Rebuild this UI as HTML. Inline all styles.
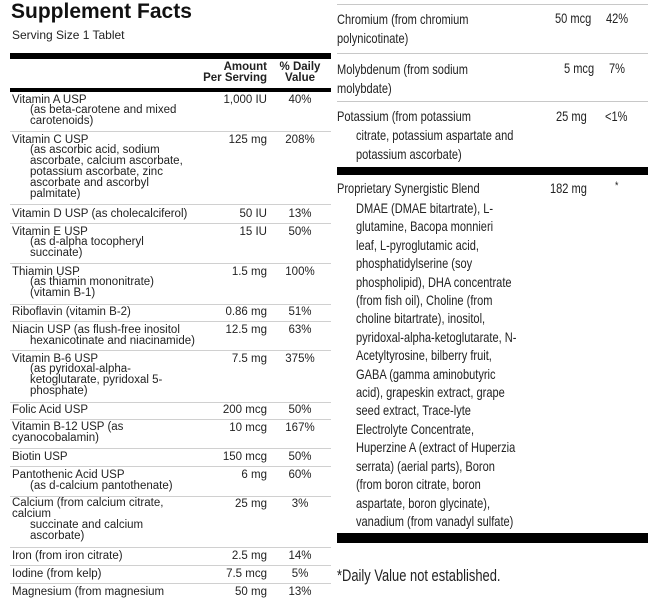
<!DOCTYPE html>
<html><head><meta charset="utf-8"><style>
body{margin:0;background:#fff;width:654px;height:600px;position:relative;overflow:hidden;font-family:"Liberation Sans",Arial,sans-serif;color:#222}
.l{position:absolute;font-size:11.5px;line-height:12px;white-space:nowrap}
.a{position:absolute;font-size:11.5px;line-height:12px;white-space:nowrap;right:387px;text-align:right}
.p{position:absolute;font-size:11.5px;line-height:12px;white-space:nowrap;left:280px;width:40px;text-align:center}
.s{position:absolute;left:10px;width:321px;height:1px;background:#d0d0d0}
.r{position:absolute;font-size:14px;line-height:16px;white-space:nowrap;transform:scaleX(0.79);transform-origin:0 0;color:#222}
.rs{position:absolute;left:337px;width:311px;height:1px;background:#c8c8c8}
.b{position:absolute;background:#000}
</style></head><body>
<div style="position:absolute;left:11px;top:0px;font-size:21px;font-weight:bold;line-height:24px;color:#111">Supplement Facts</div>
<div class="l" style="left:12px;top:29px;font-size:12px">Serving Size 1 Tablet</div>
<div class="b" style="left:10px;top:53px;width:321px;height:6px"></div>
<div class="l" style="right:387px;top:62px;text-align:right;font-weight:bold;line-height:11px">Amount<br>Per Serving</div>
<div class="l" style="left:278px;width:44px;top:62px;text-align:center;font-weight:bold;line-height:11px">% Daily<br>Value</div>
<div class="b" style="left:10px;top:88px;width:321px;height:4px"></div>

<div class="l" style="left:12px;top:94px">Vitamin A USP</div><div class="a" style="top:94px">1,000 IU</div><div class="p" style="top:94px">40%</div>
<div class="l" style="left:30px;top:105px;line-height:11px">(as beta-carotene and mixed<br>carotenoids)</div>
<div class="s" style="top:131px"></div>
<div class="l" style="left:12px;top:134px">Vitamin C USP</div><div class="a" style="top:134px">125 mg</div><div class="p" style="top:134px">208%</div>
<div class="l" style="left:30px;top:145px;line-height:11px">(as ascorbic acid, sodium<br>ascorbate, calcium ascorbate,<br>potassium ascorbate, zinc<br>ascorbate and ascorbyl<br>palmitate)</div>
<div class="s" style="top:204px"></div>
<div class="l" style="left:12px;top:208px">Vitamin D USP (as cholecalciferol)</div><div class="a" style="top:208px">50 IU</div><div class="p" style="top:208px">13%</div>
<div class="s" style="top:223px"></div>
<div class="l" style="left:12px;top:226px">Vitamin E USP</div><div class="a" style="top:226px">15 IU</div><div class="p" style="top:226px">50%</div>
<div class="l" style="left:30px;top:237px;line-height:11px">(as d-alpha tocopheryl<br>succinate)</div>
<div class="s" style="top:263px"></div>
<div class="l" style="left:12px;top:266px">Thiamin USP</div><div class="a" style="top:266px">1.5 mg</div><div class="p" style="top:266px">100%</div>
<div class="l" style="left:30px;top:277px;line-height:11px">(as thiamin mononitrate)<br>(vitamin B-1)</div>
<div class="s" style="top:304px"></div>
<div class="l" style="left:12px;top:306px">Riboflavin (vitamin B-2)</div><div class="a" style="top:306px">0.86 mg</div><div class="p" style="top:306px">51%</div>
<div class="s" style="top:321px"></div>
<div class="l" style="left:12px;top:324px">Niacin USP (as flush-free inositol</div><div class="a" style="top:324px">12.5 mg</div><div class="p" style="top:324px">63%</div>
<div class="l" style="left:30px;top:335px">hexanicotinate and niacinamide)</div>
<div class="s" style="top:350px"></div>
<div class="l" style="left:12px;top:353px">Vitamin B-6 USP</div><div class="a" style="top:353px">7.5 mg</div><div class="p" style="top:353px">375%</div>
<div class="l" style="left:30px;top:364px;line-height:11px">(as pyridoxal-alpha-<br>ketoglutarate, pyridoxal 5-<br>phosphate)</div>
<div class="s" style="top:402px"></div>
<div class="l" style="left:12px;top:404px">Folic Acid USP</div><div class="a" style="top:404px">200 mcg</div><div class="p" style="top:404px">50%</div>
<div class="s" style="top:419px"></div>
<div class="l" style="left:12px;top:422px;line-height:11px">Vitamin B-12 USP (as<br>cyanocobalamin)</div><div class="a" style="top:422px">10 mcg</div><div class="p" style="top:422px">167%</div>
<div class="s" style="top:448px"></div>
<div class="l" style="left:12px;top:451px">Biotin USP</div><div class="a" style="top:451px">150 mcg</div><div class="p" style="top:451px">50%</div>
<div class="s" style="top:466px"></div>
<div class="l" style="left:12px;top:469px">Pantothenic Acid USP</div><div class="a" style="top:469px">6 mg</div><div class="p" style="top:469px">60%</div>
<div class="l" style="left:30px;top:480px">(as d-calcium pantothenate)</div>
<div class="s" style="top:496px"></div>
<div class="l" style="left:12px;top:498px;line-height:11px">Calcium (from calcium citrate,<br>calcium</div><div class="a" style="top:498px">25 mg</div><div class="p" style="top:498px">3%</div>
<div class="l" style="left:30px;top:520px;line-height:11px">succinate and calcium<br>ascorbate)</div>
<div class="s" style="top:547px"></div>
<div class="l" style="left:12px;top:550px">Iron (from iron citrate)</div><div class="a" style="top:550px">2.5 mg</div><div class="p" style="top:550px">14%</div>
<div class="s" style="top:565px"></div>
<div class="l" style="left:12px;top:568px">Iodine (from kelp)</div><div class="a" style="top:568px">7.5 mcg</div><div class="p" style="top:568px">5%</div>
<div class="s" style="top:583px"></div>
<div class="l" style="left:12px;top:586px">Magnesium (from magnesium</div><div class="a" style="top:586px">50 mg</div><div class="p" style="top:586px">13%</div>

<div class="rs" style="top:4px"></div>
<div class="r" style="left:337px;top:10px;line-height:19px">Chromium (from chromium<br>polynicotinate)</div>
<div class="r" style="left:555px;top:10px">50 mcg</div><div class="r" style="left:606px;top:10px">42%</div>
<div class="rs" style="top:53px"></div>
<div class="r" style="left:337px;top:60px;line-height:19px">Molybdenum (from sodium<br>molybdate)</div>
<div class="r" style="left:564px;top:60px">5 mcg</div><div class="r" style="left:609px;top:60px">7%</div>
<div class="rs" style="top:101px"></div>
<div class="r" style="left:337px;top:108px">Potassium (from potassium</div>
<div class="r" style="left:356px;top:126px;line-height:19px">citrate, potassium aspartate and<br>potassium ascorbate)</div>
<div class="r" style="left:556px;top:108px">25 mg</div><div class="r" style="left:605px;top:108px">&lt;1%</div>
<div class="b" style="left:337px;top:167px;width:311px;height:8px"></div>
<div class="r" style="left:337px;top:180px">Proprietary Synergistic Blend</div>
<div class="r" style="left:550px;top:180px">182 mg</div><div class="r" style="left:615px;top:178px;font-size:11px">*</div>
<div class="r" style="left:356px;top:199px;line-height:18.4px">DMAE (DMAE bitartrate), L-<br>glutamine, Bacopa monnieri<br>leaf, L-pyroglutamic acid,<br>phosphatidylserine (soy<br>phospholipid), DHA concentrate<br>(from fish oil), Choline (from<br>choline bitartrate), inositol,<br>pyridoxal-alpha-ketoglutarate, N-<br>Acetyltyrosine, bilberry fruit,<br>GABA (gamma aminobutyric<br>acid), grapeskin extract, grape<br>seed extract, Trace-lyte<br>Electrolyte Concentrate,<br>Huperzine A (extract of Huperzia<br>serrata) (aerial parts), Boron<br>(from boron citrate, boron<br>aspartate, boron glycinate),<br>vanadium (from vanadyl sulfate)</div>
<div class="b" style="left:337px;top:533px;width:311px;height:10px"></div>
<div class="r" style="left:337px;top:566px;font-size:17px;line-height:20px;transform:scaleX(0.76)">*Daily Value not established.</div>
</body></html>
